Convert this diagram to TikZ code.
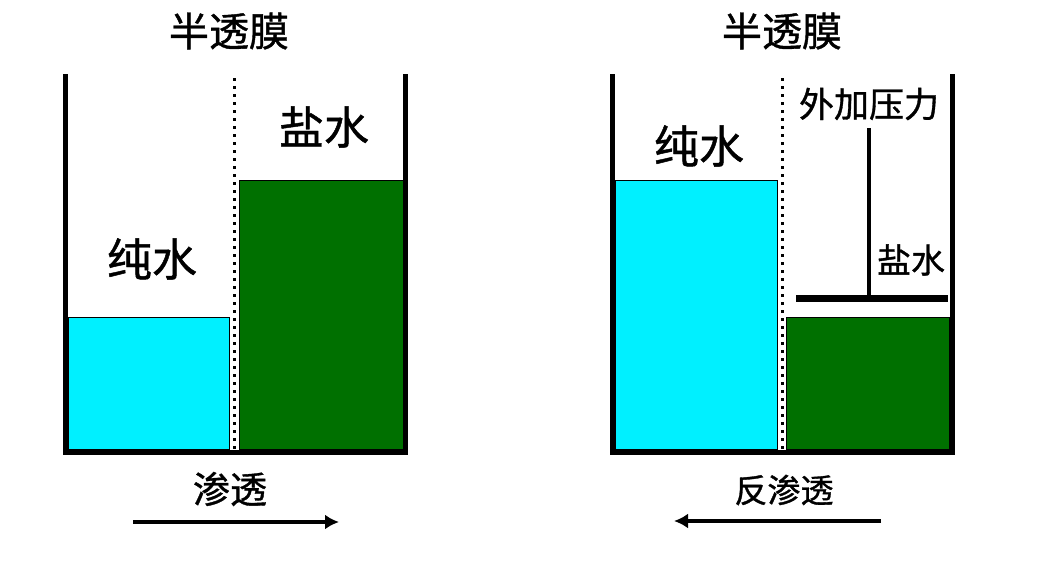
\documentclass[tikz,border=0pt]{standalone}
\usepackage{fontspec}
\usetikzlibrary{arrows.meta}
\newfontfamily\cjk[FakeBold=1]{Noto Sans CJK SC}
\definecolor{purewater}{RGB}{0,240,255}
\definecolor{saltwater}{RGB}{0,112,0}
\newcommand{\fsz}[1]{\cjk\fontsize{#1}{#1}\selectfont}
\begin{document}
\begin{tikzpicture}[x=1pt,y=-1pt,
  wall/.style={line width=5pt,line cap=rect},
  membrane/.style={line width=3pt,dash pattern=on 3pt off 5pt},
  pure/.style={fill=purewater,draw=black,line width=1pt},
  salt/.style={fill=saltwater,draw=black,line width=1pt},
  lab/.style={font=\fsz{30},inner sep=0pt},
  flow/.style={line width=3.5pt,-{Latex[length=14pt,width=15pt]}}]
\useasboundingbox[fill=white] (0,0) rectangle (1040,570);
% left container
\path[pure] (68,317) rectangle (229,449);
\path[salt] (239,180) rectangle (403,449);
\draw[membrane] (234,78) -- (234,449);
\draw[wall] (65,76) -- (65,452) -- (405,452) -- (405,76);
\node[lab,font=\fsz{40}] (t1) at (229,31) {半透膜};
\node[lab,font=\fsz{45}] (s1) at (324,127) {盐水};
\node[lab,font=\fsz{45}] (w1) at (152,259) {纯水};
\node[lab,font=\fsz{37}] (o1) at (230,489) {渗透};
\coordinate (a1s) at (133,522);
\coordinate (a1e) at (339,522);
\draw[flow] (a1s) -- (a1e);
% right container
\path[pure] (615,180) rectangle (777,449);
\path[salt] (786,317) rectangle (949,449);
\draw[membrane] (782,78) -- (782,449);
\draw[wall] (612,76) -- (612,452) -- (952,452) -- (952,76);
\draw[line width=7pt] (796,298) -- (948,298);
\draw[line width=3.5pt] (869,128) -- (869,298);
\node[lab,font=\fsz{40}] (t2) at (782,31) {半透膜};
\node[lab,font=\fsz{35}] (f2) at (869,104) {外加压力};
\node[lab,font=\fsz{45}] (w2) at (699,146) {纯水};
\node[lab,font=\fsz{34}] (s2) at (911,260) {盐水};
\node[lab,font=\fsz{33}] (o2) at (784,490) {反渗透};
\coordinate (a2s) at (881,521);
\coordinate (a2e) at (674,521);
\draw[flow] (a2s) -- (a2e);
\end{tikzpicture}
\end{document}
